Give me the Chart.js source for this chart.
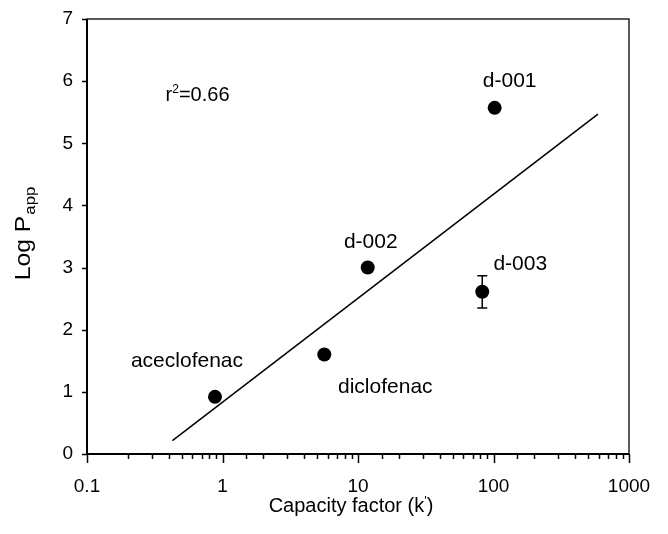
<!DOCTYPE html>
<html><head><meta charset="utf-8">
<script src="https://cdn.jsdelivr.net/npm/chart.js@4"></script>
<style>html,body{margin:0;padding:0;background:#fff}canvas{display:block}</style>
</head><body>
<canvas id="c" width="668" height="534"></canvas>
<script>
// ---- data ----
const compounds = ['aceclofenac', 'diclofenac', 'd-002', 'd-003', 'd-001'];
const capacityFactor = [0.88, 5.64, 11.8, 82.6, 102];
const logPapp = [0.92, 1.60, 3.00, 2.61, 5.57];
const logPappError = [0, 0, 0.05, 0.26, 0];
const fitX = [0.427, 590];
const fitY = [0.214, 5.47];
const xTickLabels = ['0.1', '1', '10', '100', '1000'];
const yTickLabels = ['0', '1', '2', '3', '4', '5', '6', '7'];
const rSquaredText = '0.66';

// ---- presentation ----
const FONT = '"Liberation Sans", Arial, Helvetica, sans-serif';
const labelOffsets = [[-28, -30], [61, 38], [3, -20], [38, -22], [15, -21]];
const rAnchor = { x: 0.38, y: 5.68 };

const decor = {
  id: 'decor',
  afterDraw(chart) {
    const ctx = chart.ctx;
    const { left, right, top, bottom } = chart.chartArea;
    const xs = chart.scales.x, ys = chart.scales.y;
    ctx.save();
    ctx.strokeStyle = '#000';
    ctx.fillStyle = '#000';
    // frame
    ctx.lineWidth = 1.3;
    ctx.strokeRect(left, top, right - left, bottom - top);
    ctx.lineWidth = 2;
    ctx.beginPath();
    ctx.moveTo(left, top); ctx.lineTo(left, bottom); ctx.lineTo(right, bottom);
    ctx.stroke();
    // x tick marks
    ctx.lineWidth = 1.5;
    xs.ticks.forEach(t => {
      const v = t.value;
      const lg = Math.log10(v);
      const major = Math.abs(lg - Math.round(lg)) < 1e-6;
      const p = Math.round(xs.getPixelForValue(v)) + 0.5;
      ctx.beginPath();
      ctx.moveTo(p, bottom);
      ctx.lineTo(p, bottom + (major ? 9 : 5));
      ctx.stroke();
    });
    // y tick marks
    ys.ticks.forEach(t => {
      const p = Math.round(ys.getPixelForValue(t.value)) + 0.5;
      ctx.beginPath();
      ctx.moveTo(left - 5, p);
      ctx.lineTo(left, p);
      ctx.stroke();
    });
    // error bars
    ctx.lineWidth = 1.5;
    logPappError.forEach((e, i) => {
      if (!e) return;
      const px = xs.getPixelForValue(capacityFactor[i]);
      const y1 = ys.getPixelForValue(logPapp[i] + e);
      const y2 = ys.getPixelForValue(logPapp[i] - e);
      ctx.beginPath();
      ctx.moveTo(px, y1); ctx.lineTo(px, y2);
      ctx.moveTo(px - 5, y1); ctx.lineTo(px + 5, y1);
      ctx.moveTo(px - 5, y2); ctx.lineTo(px + 5, y2);
      ctx.stroke();
    });
    // point labels
    ctx.font = '21px ' + FONT;
    ctx.textAlign = 'center';
    ctx.textBaseline = 'alphabetic';
    compounds.forEach((name, i) => {
      const px = xs.getPixelForValue(capacityFactor[i]);
      const py = ys.getPixelForValue(logPapp[i]);
      ctx.fillText(name, px + labelOffsets[i][0], py + labelOffsets[i][1]);
    });
    // r^2 annotation
    ctx.textAlign = 'left';
    let rx = xs.getPixelForValue(rAnchor.x);
    const ry = ys.getPixelForValue(rAnchor.y);
    ctx.font = '20px ' + FONT;
    ctx.fillText('r', rx, ry); rx += ctx.measureText('r').width;
    ctx.font = '12px ' + FONT;
    ctx.fillText('2', rx, ry - 8); rx += ctx.measureText('2').width;
    ctx.font = '20px ' + FONT;
    ctx.fillText('=' + rSquaredText, rx, ry);
    // y axis title (Log P with subscript app)
    ctx.save();
    ctx.translate(30, 234);
    ctx.rotate(-Math.PI / 2);
    ctx.scale(1.12, 1);
    ctx.font = '22px ' + FONT;
    const mainW = ctx.measureText('Log P').width;
    ctx.font = '15px ' + FONT;
    const subW = ctx.measureText('app').width;
    const sx = -(mainW + subW) / 2;
    ctx.font = '22px ' + FONT;
    ctx.fillText('Log P', sx, 0);
    ctx.font = '15px ' + FONT;
    ctx.fillText('app', sx + mainW + 1, 5);
    ctx.restore();
    // x axis title
    const a = 'Capacity factor (k', b = ')';
    ctx.font = '20px ' + FONT;
    const aw = ctx.measureText(a).width, bw = ctx.measureText(b).width;
    ctx.font = '13px ' + FONT;
    const pw = ctx.measureText('\'').width;
    let tx = 351 - (aw + pw + bw) / 2;
    const tb = 512;
    ctx.font = '20px ' + FONT;
    ctx.fillText(a, tx, tb); tx += aw;
    ctx.font = '13px ' + FONT;
    ctx.fillText('\'', tx, tb - 7); tx += pw;
    ctx.font = '20px ' + FONT;
    ctx.fillText(b, tx, tb);
    ctx.restore();
  }
};

new Chart(document.getElementById('c'), {
  type: 'scatter',
  data: {
    datasets: [
      {
        data: capacityFactor.map((x, i) => ({ x, y: logPapp[i] })),
        pointRadius: 7,
        pointHoverRadius: 7,
        pointBackgroundColor: '#000',
        pointBorderWidth: 0
      },
      {
        data: fitX.map((x, i) => ({ x, y: fitY[i] })),
        showLine: true,
        pointRadius: 0,
        borderColor: '#000',
        borderWidth: 1.5
      }
    ]
  },
  options: {
    responsive: false,
    devicePixelRatio: 1,
    animation: false,
    layout: { padding: { top: 19, right: 39, left: 0, bottom: 0 } },
    plugins: { legend: { display: false }, tooltip: { enabled: false } },
    scales: {
      x: {
        type: 'logarithmic',
        min: 0.1,
        max: 1000,
        grid: { display: false, drawTicks: false },
        border: { display: false },
        afterFit: s => { s.height = 80; s.paddingLeft = 0; s.paddingRight = 0; },
        ticks: {
          autoSkip: false,
          maxRotation: 0,
          padding: 21,
          color: '#000',
          font: { family: FONT, size: 19 },
          callback: v => {
            const s = xTickLabels.find(l => Math.abs(parseFloat(l) - v) < 1e-9 * Math.max(1, v));
            return s || '';
          }
        }
      },
      y: {
        min: 0,
        max: 7,
        grid: { display: false, drawTicks: false },
        border: { display: false },
        afterFit: s => { s.width = 87; s.paddingTop = 0; s.paddingBottom = 0; },
        ticks: {
          stepSize: 1,
          padding: 14,
          color: '#000',
          font: { family: FONT, size: 19 },
          callback: v => yTickLabels.includes(String(v)) ? String(v) : ''
        }
      }
    }
  },
  plugins: [decor]
});
</script>
</body></html>
